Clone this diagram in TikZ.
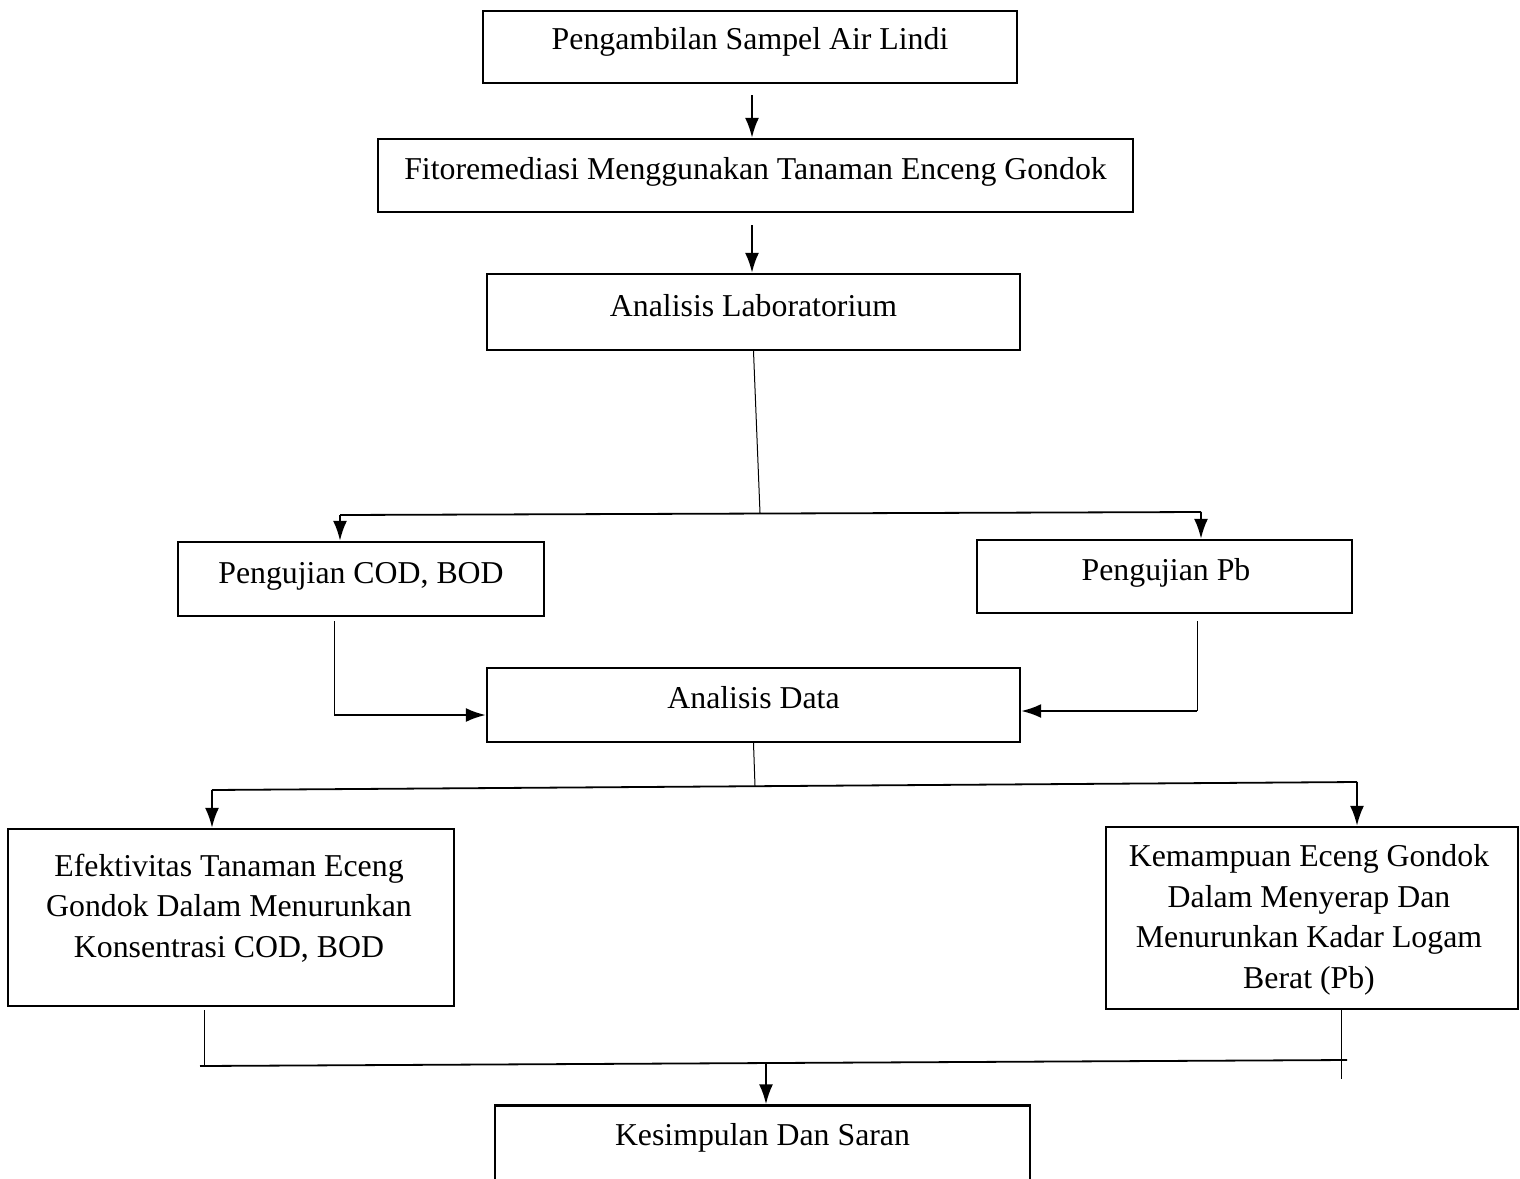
\documentclass[tikz,border=0pt]{standalone}
\usepackage{fontspec}
\setmainfont{Liberation Serif}
\usetikzlibrary{arrows.meta}
\begin{document}
\begin{tikzpicture}[x=0.5pt,y=-0.5pt,
  box/.style={draw, line width=1.2pt, inner sep=0pt},
  txt/.style={font=\fontsize{15.9}{20.25}\selectfont, align=center, inner sep=0pt, anchor=base},
  ln/.style={line width=0.5pt},
  arr/.style={line width=1.1pt, -{Latex[length=10pt,width=7pt]}},
]
\useasboundingbox (0,0) rectangle (1520,1178);
\clip (0,0) rectangle (1520,1178);
\fill[white] (0,0) rectangle (1520,1178);

% boxes
\node[box, minimum width=267pt,   minimum height=36pt]   (b1) at (750,47) {};
\node[box, minimum width=377.5pt, minimum height=36.5pt] (b2) at (755.5,175.5) {};
\node[box, minimum width=266.5pt, minimum height=38pt]   (b3) at (753.5,312) {};
\node[box, minimum width=183pt,   minimum height=37pt]   (b4) at (361,579) {};
\node[box, minimum width=187.5pt, minimum height=36.5pt] (b5) at (1164.5,576.5) {};
\node[box, minimum width=266.5pt, minimum height=37pt]   (b6) at (753.5,705) {};
\node[box, minimum width=223pt,   minimum height=88.5pt] (b7) at (231,917.5) {};
\node[box, minimum width=206pt,   minimum height=91pt]   (b8) at (1312,918) {};
\node[box, minimum width=267.5pt, minimum height=47.5pt] (b9) at (762.5,1153) {};

% texts
\node[txt] (t1) at (750,49) {Pengambilan Sampel Air Lindi};
\node[txt] (t2) at (755.5,179) {Fitoremediasi Menggunakan Tanaman Enceng Gondok};
\node[txt] (t3) at (753.5,316) {Analisis Laboratorium};
\node[txt] (t4) at (361,583) {Pengujian COD, BOD};
\node[txt] (t5) at (1166,580) {Pengujian Pb};
\node[txt] (t6) at (753.5,708) {Analisis Data};
\node[txt] (t7) at (229,957) {Efektivitas Tanaman Eceng\\Gondok Dalam Menurunkan\\Konsentrasi COD, BOD};
\node[txt] (t8) at (1309,988) {Kemampuan Eceng Gondok\\Dalam Menyerap Dan\\Menurunkan Kadar Logam\\Berat (Pb)};
\node[txt] (t9) at (762.5,1145) {Kesimpulan Dan Saran};

% connector points
\coordinate (a1) at (752,95);
\coordinate (a2) at (752,225);
\coordinate (j1) at (760,513);
\coordinate (hL) at (340,515);
\coordinate (hR) at (1201,512);
\coordinate (c1) at (334,621);
\coordinate (c2) at (334,715);
\coordinate (d1) at (1197,621);
\coordinate (d2) at (1197,711);
\coordinate (k1) at (755,786);
\coordinate (eL) at (212,790);
\coordinate (eR) at (1357,782);
\coordinate (f1) at (204,1010);
\coordinate (f2) at (204,1066);
\coordinate (g1) at (1341,1010);
\coordinate (g2) at (1341,1079);
\coordinate (mL) at (200,1066);
\coordinate (mR) at (1347,1060);
\coordinate (m1) at (766,1063);

% connectors
\draw[arr] (a1) -- (a1 |- b2.north);
\draw[arr] (a2) -- (a2 |- b3.north);
\draw[ln] (b3.south) -- (j1);
\draw[line width=0.9pt] (hL) -- (hR);
\draw[arr] (hL) -- (hL |- b4.north);
\draw[arr] (hR) -- (hR |- b5.north);
\draw[ln] (c1) -- (c2);
\draw[arr] (c2) -- (c2 -| b6.west);
\draw[ln] (d1) -- (d2);
\draw[arr] (d2) -- (d2 -| b6.east);
\draw[ln] (b6.south) -- (k1);
\draw[line width=0.9pt] (eL) -- (eR);
\draw[arr] (eL) -- (eL |- b7.north);
\draw[arr] (eR) -- (eR |- b8.north);
\draw[ln] (f1) -- (f2);
\draw[ln] (g1) -- (g2);
\draw[line width=0.9pt] (mL) -- (mR);
\draw[arr] (m1) -- (m1 |- b9.north);
\end{tikzpicture}
\end{document}
